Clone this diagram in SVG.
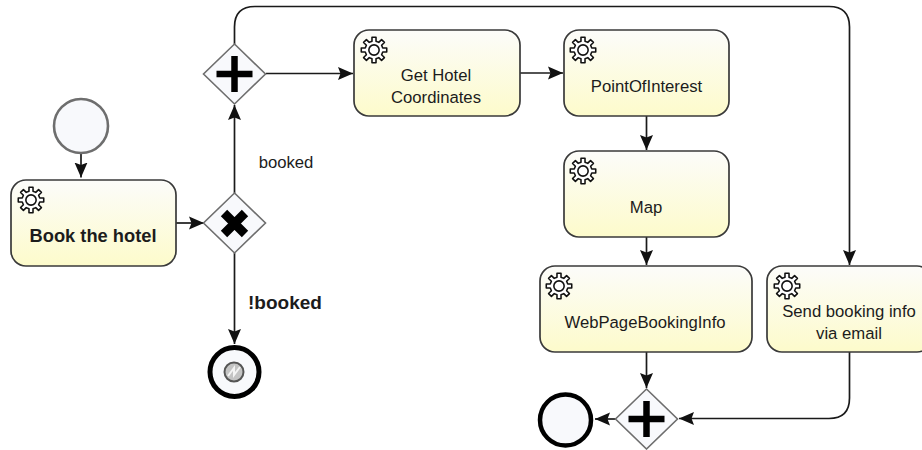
<svg xmlns="http://www.w3.org/2000/svg" xmlns:xlink="http://www.w3.org/1999/xlink" width="922" height="450" viewBox="0 0 922 450">
<style>
text{font-family:"Liberation Sans",Arial,sans-serif;font-size:16.7px;fill:#1c1c1c;text-anchor:middle}
.b{font-weight:bold;font-size:18.3px}
.task{fill:url(#tg);stroke:#3a3a3a;stroke-width:1.7}
.gw{fill:#f8f9fc;stroke:#6e6e6e;stroke-width:1.6}
.c{fill:none;stroke:#1a1a1a;stroke-width:1.7}
.mk{fill:none;stroke:#000;stroke-width:6.5}
.gear{fill:#fff;stroke:#111;stroke-width:1.4;stroke-linejoin:round}
</style>
<defs>
<linearGradient id="tg" x1="0" y1="0" x2="0" y2="1"><stop offset="0" stop-color="#fcfcfa"/><stop offset="1" stop-color="#fdfbcb"/></linearGradient>
<marker id="a" markerUnits="userSpaceOnUse" markerWidth="16" markerHeight="14" refX="15" refY="7" orient="auto"><path d="M0 0.500L15 7L0 13.500L2.500 7Z" fill="#111"/></marker>
<g id="g"><g transform="scale(1.12)"><path class="gear" d="M7.8-1.8L11.36-1.8L11.36 1.8L7.8 1.8L6.79 4.24L9.3 6.76L6.76 9.3L4.24 6.79L1.8 7.8L1.8 11.36L-1.8 11.36L-1.8 7.8L-4.24 6.79L-6.76 9.3L-9.3 6.76L-6.79 4.24L-7.8 1.8L-11.36 1.8L-11.36-1.8L-7.8-1.8L-6.79-4.24L-9.3-6.76L-6.76-9.3L-4.24-6.79L-1.8-7.8L-1.8-11.36L1.8-11.36L1.8-7.8L4.24-6.79L6.76-9.3L9.3-6.76L6.79-4.24Z"/><circle class="gear" r="4.6"/></g></g>
<path id="d" class="gw" d="M0-30L31 0L0 30L-31 0Z"/>
<path id="plus" class="mk" d="M0-18V18M-18 0H18"/>
</defs>
<g id="connectors">
<path class="c" marker-end="url(#a)" d="M81 153V177.500"/>
<path class="c" marker-end="url(#a)" d="M176 223H204"/>
<path class="c" marker-end="url(#a)" d="M234.500 193V105"/>
<path class="c" marker-end="url(#a)" d="M234.500 253V344"/>
<path class="c" marker-end="url(#a)" d="M266 73.500H353"/>
<path class="c" marker-end="url(#a)" d="M520 73H563"/>
<path class="c" marker-end="url(#a)" d="M646.500 116V150"/>
<path class="c" marker-end="url(#a)" d="M646.500 237V265"/>
<path class="c" marker-end="url(#a)" d="M646.500 352V388"/>
<path class="c" marker-end="url(#a)" d="M617 419H595"/>
<path class="c" marker-end="url(#a)" d="M234.500 44V27Q234.500 6.500 255 6.500H829Q849.500 6.500 849.500 27V265"/>
<path class="c" marker-end="url(#a)" d="M849.500 352V398Q849.500 418.500 829 418.500H679"/>
</g>
<g id="start"><circle cx="81" cy="126" r="27" fill="#f8f9fc" stroke="#6e6e6e" stroke-width="2.6"/></g>
<g id="book"><rect class="task" x="11" y="180" width="165" height="86" rx="15"/><use xlink:href="#g" href="#g" x="31" y="200"/><text class="b" x="93" y="242">Book the hotel</text></g>
<g id="xor"><use xlink:href="#d" href="#d" x="234.500" y="223"/><path class="mk" style="stroke-width:9" d="M224 213L245 234M245 213L224 234"/></g>
<g id="fork"><use xlink:href="#d" href="#d" x="234.500" y="74"/><use xlink:href="#plus" href="#plus" x="234.500" y="74"/></g>
<g id="lblBooked"><text x="286" y="168">booked</text></g>
<g id="lblNot"><text class="b" x="285" y="309" style="font-size:19px">!booked</text></g>
<g id="terminate"><circle cx="234.500" cy="372" r="24.500" fill="#f8f9fc" stroke="#000" stroke-width="5"/><circle cx="234" cy="372" r="9.500" fill="#c4c4c4" stroke="#555" stroke-width="2"/><path d="M228 376L234 368L234 375L240 367" fill="none" stroke="#f4f4f4" stroke-width="2"/></g>
<g id="hotel"><rect class="task" x="354" y="30" width="166" height="86" rx="15"/><use xlink:href="#g" href="#g" x="374" y="50"/><text x="436" y="81">Get Hotel</text><text x="436" y="103">Coordinates</text></g>
<g id="poi"><rect class="task" x="564" y="30" width="165" height="86" rx="15"/><use xlink:href="#g" href="#g" x="583" y="50"/><text x="646.500" y="92">PointOfInterest</text></g>
<g id="map"><rect class="task" x="564" y="151" width="165" height="86" rx="15"/><use xlink:href="#g" href="#g" x="583" y="171"/><text x="646" y="213">Map</text></g>
<g id="web"><rect class="task" x="540" y="266" width="212" height="86" rx="15"/><use xlink:href="#g" href="#g" x="559" y="286"/><text x="645" y="328">WebPageBookingInfo</text></g>
<g id="send"><rect class="task" x="767" y="266" width="165" height="86" rx="15"/><use xlink:href="#g" href="#g" x="787" y="286"/><text x="849" y="317">Send booking info</text><text x="849" y="339">via email</text></g>
<g id="join"><use xlink:href="#d" href="#d" x="646.500" y="419"/><use xlink:href="#plus" href="#plus" x="646.500" y="419"/></g>
<g id="end"><circle cx="565.500" cy="420" r="25.500" fill="#f8f9fc" stroke="#000" stroke-width="4.500"/></g>
</svg>
